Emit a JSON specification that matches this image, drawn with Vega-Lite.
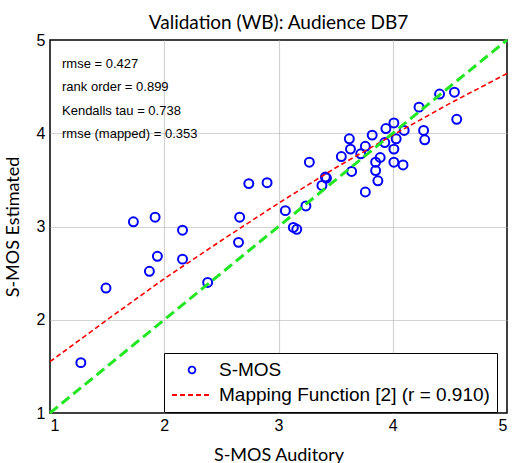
{
  "$schema": "https://vega.github.io/schema/vega-lite/v6.json",
  "width": 457,
  "height": 373,
  "autosize": "none",
  "padding": {"left": 50, "top": 40, "right": 6, "bottom": 50},
  "background": "white",
  "title": {
    "text": "Validation (WB): Audience DB7",
    "font": "Lato",
    "fontSize": 19,
    "fontWeight": "normal",
    "color": "black",
    "anchor": "middle",
    "offset": -1
  },
  "config": {
    "view": {"stroke": "black", "strokeWidth": 1.5},
    "axis": {
      "labelFont": "Liberation Sans",
      "labelFontSize": 16,
      "labelColor": "black",
      "titleFont": "Lato",
      "titleFontSize": 18,
      "titleFontWeight": "normal",
      "titleColor": "black",
      "domain": false,
      "ticks": false,
      "grid": true,
      "gridWidth": 1.2,
      "gridDash": [1, 1]
    }
  },
  "datasets": {
    "scores": [
      {"auditory": 1.27, "estimated": 1.54, "series": "S-MOS"},
      {"auditory": 1.49, "estimated": 2.34, "series": "S-MOS"},
      {"auditory": 1.73, "estimated": 3.05, "series": "S-MOS"},
      {"auditory": 1.92, "estimated": 3.10, "series": "S-MOS"},
      {"auditory": 1.94, "estimated": 2.68, "series": "S-MOS"},
      {"auditory": 1.87, "estimated": 2.52, "series": "S-MOS"},
      {"auditory": 2.16, "estimated": 2.96, "series": "S-MOS"},
      {"auditory": 2.16, "estimated": 2.65, "series": "S-MOS"},
      {"auditory": 2.38, "estimated": 2.40, "series": "S-MOS"},
      {"auditory": 2.65, "estimated": 2.83, "series": "S-MOS"},
      {"auditory": 2.66, "estimated": 3.10, "series": "S-MOS"},
      {"auditory": 2.74, "estimated": 3.46, "series": "S-MOS"},
      {"auditory": 2.90, "estimated": 3.47, "series": "S-MOS"},
      {"auditory": 3.06, "estimated": 3.17, "series": "S-MOS"},
      {"auditory": 3.13, "estimated": 2.99, "series": "S-MOS"},
      {"auditory": 3.16, "estimated": 2.97, "series": "S-MOS"},
      {"auditory": 3.24, "estimated": 3.22, "series": "S-MOS"},
      {"auditory": 3.27, "estimated": 3.69, "series": "S-MOS"},
      {"auditory": 3.38, "estimated": 3.44, "series": "S-MOS"},
      {"auditory": 3.41, "estimated": 3.53, "series": "S-MOS"},
      {"auditory": 3.42, "estimated": 3.52, "series": "S-MOS"},
      {"auditory": 3.55, "estimated": 3.75, "series": "S-MOS"},
      {"auditory": 3.62, "estimated": 3.94, "series": "S-MOS"},
      {"auditory": 3.63, "estimated": 3.83, "series": "S-MOS"},
      {"auditory": 3.64, "estimated": 3.59, "series": "S-MOS"},
      {"auditory": 3.72, "estimated": 3.78, "series": "S-MOS"},
      {"auditory": 3.76, "estimated": 3.37, "series": "S-MOS"},
      {"auditory": 3.76, "estimated": 3.86, "series": "S-MOS"},
      {"auditory": 3.82, "estimated": 3.98, "series": "S-MOS"},
      {"auditory": 3.85, "estimated": 3.69, "series": "S-MOS"},
      {"auditory": 3.85, "estimated": 3.60, "series": "S-MOS"},
      {"auditory": 3.87, "estimated": 3.49, "series": "S-MOS"},
      {"auditory": 3.89, "estimated": 3.74, "series": "S-MOS"},
      {"auditory": 3.93, "estimated": 3.90, "series": "S-MOS"},
      {"auditory": 3.94, "estimated": 4.05, "series": "S-MOS"},
      {"auditory": 4.01, "estimated": 4.11, "series": "S-MOS"},
      {"auditory": 4.01, "estimated": 3.83, "series": "S-MOS"},
      {"auditory": 4.01, "estimated": 3.69, "series": "S-MOS"},
      {"auditory": 4.03, "estimated": 3.94, "series": "S-MOS"},
      {"auditory": 4.09, "estimated": 3.66, "series": "S-MOS"},
      {"auditory": 4.10, "estimated": 4.03, "series": "S-MOS"},
      {"auditory": 4.23, "estimated": 4.28, "series": "S-MOS"},
      {"auditory": 4.27, "estimated": 4.03, "series": "S-MOS"},
      {"auditory": 4.28, "estimated": 3.93, "series": "S-MOS"},
      {"auditory": 4.41, "estimated": 4.42, "series": "S-MOS"},
      {"auditory": 4.54, "estimated": 4.44, "series": "S-MOS"},
      {"auditory": 4.56, "estimated": 4.15, "series": "S-MOS"}
    ],
    "mapping": [
      {"auditory": 1.0, "estimated": 1.55, "series": "Mapping Function [2] (r = 0.910)"},
      {"auditory": 1.5, "estimated": 2.00, "series": "Mapping Function [2] (r = 0.910)"},
      {"auditory": 2.0, "estimated": 2.44, "series": "Mapping Function [2] (r = 0.910)"},
      {"auditory": 2.5, "estimated": 2.85, "series": "Mapping Function [2] (r = 0.910)"},
      {"auditory": 3.0, "estimated": 3.25, "series": "Mapping Function [2] (r = 0.910)"},
      {"auditory": 3.5, "estimated": 3.63, "series": "Mapping Function [2] (r = 0.910)"},
      {"auditory": 4.0, "estimated": 3.98, "series": "Mapping Function [2] (r = 0.910)"},
      {"auditory": 4.5, "estimated": 4.32, "series": "Mapping Function [2] (r = 0.910)"},
      {"auditory": 5.0, "estimated": 4.64, "series": "Mapping Function [2] (r = 0.910)"}
    ],
    "identity": [
      {"auditory": 1, "estimated": 1},
      {"auditory": 5, "estimated": 5}
    ]
  },
  "layer": [
    {
      "data": {"name": "scores"},
      "mark": {"type": "point", "shape": "circle", "filled": false, "size": 80, "strokeWidth": 2, "opacity": 1},
      "encoding": {
        "x": {
          "field": "auditory",
          "type": "quantitative",
          "scale": {"domain": [1, 5], "nice": false, "zero": false},
          "axis": {
            "title": "S-MOS Auditory",
            "values": [1, 2, 3, 4, 5],
            "format": "d",
            "labelPadding": 4,
            "titlePadding": 13,
            "gridColor": {"condition": {"test": "datum.value === 1 || datum.value === 5", "value": "transparent"}, "value": "#a6a6a6"}
          }
        },
        "y": {
          "field": "estimated",
          "type": "quantitative",
          "scale": {"domain": [1, 5], "nice": false, "zero": false},
          "axis": {
            "title": "S-MOS Estimated",
            "values": [1, 2, 3, 4, 5],
            "format": "d",
            "labelPadding": 5,
            "titlePadding": 14,
            "gridColor": {"condition": {"test": "datum.value === 1 || datum.value === 5", "value": "transparent"}, "value": "#a6a6a6"}
          }
        },
        "color": {
          "field": "series",
          "type": "nominal",
          "scale": {
            "domain": ["S-MOS", "Mapping Function [2] (r = 0.910)"],
            "range": ["#0000ff", "#ff0000"]
          },
          "legend": {
            "title": null,
            "orient": "none",
            "legendX": 114,
            "legendY": 313,
            "fillColor": "white",
            "strokeColor": "black",
            "padding": 7,
            "labelFont": "Liberation Sans",
            "labelFontSize": 19,
            "labelColor": "black",
            "labelLimit": 400,
            "labelOffset": 6,
            "symbolSize": 1600,
            "symbolType": "stroke",
            "clipHeight": 20,
            "rowPadding": 5,
            "encode": {
              "symbols": {
                "update": {
                  "shape": {"signal": "datum.value === 'S-MOS' ? 'circle' : 'stroke'"},
                  "size": {"signal": "datum.value === 'S-MOS' ? 45 : 1600"},
                  "strokeDash": {"signal": "datum.value === 'S-MOS' ? [1, 0] : [5, 3]"},
                  "strokeWidth": {"value": 1.8},
                  "fill": {"value": "transparent"},
                  "stroke": {"signal": "scale('color', datum.value)"}
                }
              }
            }
          }
        }
      }
    },
    {
      "data": {"name": "mapping"},
      "mark": {"type": "line", "strokeWidth": 1.6, "strokeDash": [5, 3]},
      "encoding": {
        "x": {"field": "auditory", "type": "quantitative"},
        "y": {"field": "estimated", "type": "quantitative"},
        "color": {
          "field": "series",
          "type": "nominal",
          "legend": {
            "title": null,
            "orient": "none",
            "legendX": 114,
            "legendY": 313,
            "fillColor": "white",
            "strokeColor": "black",
            "padding": 7,
            "labelFont": "Liberation Sans",
            "labelFontSize": 19,
            "labelColor": "black",
            "labelLimit": 400,
            "labelOffset": 6,
            "symbolSize": 1600,
            "symbolType": "stroke",
            "clipHeight": 20,
            "rowPadding": 5,
            "encode": {
              "symbols": {
                "update": {
                  "shape": {"signal": "datum.value === 'S-MOS' ? 'circle' : 'stroke'"},
                  "size": {"signal": "datum.value === 'S-MOS' ? 45 : 1600"},
                  "strokeDash": {"signal": "datum.value === 'S-MOS' ? [1, 0] : [5, 3]"},
                  "strokeWidth": {"value": 1.8},
                  "fill": {"value": "transparent"},
                  "stroke": {"signal": "scale('color', datum.value)"}
                }
              }
            }
          }
        }
      }
    },
    {
      "data": {"name": "identity"},
      "mark": {"type": "line", "strokeWidth": 3, "strokeDash": [10, 5], "color": "#22e622"},
      "encoding": {
        "x": {"field": "auditory", "type": "quantitative"},
        "y": {"field": "estimated", "type": "quantitative"}
      }
    },
    {
      "data": {"values": [{}]},
      "mark": {
        "type": "text",
        "text": ["rmse = 0.427", "rank order = 0.899", "Kendalls tau = 0.738", "rmse (mapped) = 0.353"],
        "font": "Liberation Sans",
        "fontSize": 13,
        "lineHeight": 23.5,
        "align": "left",
        "baseline": "alphabetic",
        "color": "black"
      },
      "encoding": {
        "x": {"datum": 1.105},
        "y": {"datum": 4.70}
      }
    }
  ]
}
